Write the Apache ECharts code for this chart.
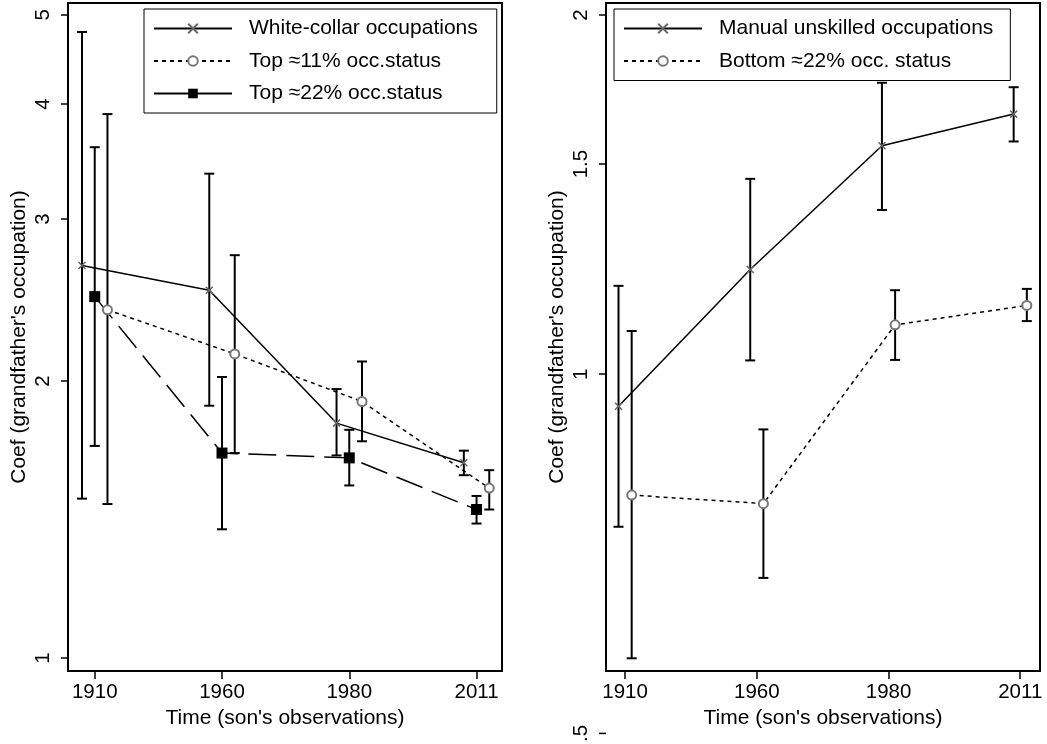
<!DOCTYPE html>
<html>
<head>
<meta charset="utf-8">
<title>Grandfather coefficients</title>
<script src="https://cdn.jsdelivr.net/npm/echarts@6/dist/echarts.min.js"></script>
<style>
  html, body { margin: 0; padding: 0; background: #fff; }
  #main { width: 1047px; height: 744px; }
</style>
</head>
<body>
<div id="main"></div>
<script>
var years = ['1910', '1960', '1980', '2011'];

// left panel: white-collar / top occupational status
var whiteCollar   = [2.67, 2.51, 1.80, 1.63];
var whiteCollarLo = [1.49, 1.88, 1.66, 1.58];
var whiteCollarHi = [4.79, 3.36, 1.96, 1.68];
var top11   = [2.39, 2.14, 1.90, 1.53];
var top11Lo = [1.47, 1.67, 1.72, 1.45];
var top11Hi = [3.90, 2.74, 2.10, 1.60];
var top22   = [2.47, 1.67, 1.65, 1.45];
var top22Lo = [1.70, 1.38, 1.54, 1.40];
var top22Hi = [3.59, 2.02, 1.77, 1.50];

// right panel: manual unskilled / bottom status
var manual   = [0.94, 1.224, 1.554, 1.652];
var manualLo = [0.745, 1.027, 1.373, 1.567];
var manualHi = [1.186, 1.458, 1.755, 1.740];
var bottom22   = [0.792, 0.779, 1.100, 1.142];
var bottom22Lo = [0.578, 0.675, 1.028, 1.108];
var bottom22Hi = [1.087, 0.899, 1.176, 1.179];

var leftTicks = [1, 2, 3, 4, 5];
var rightTicks = [1, 1.5, 2];
var xTicks = [1, 2, 3, 4];

var FONT = '"Liberation Sans", Arial, sans-serif';
var xMark = 'path://M0,0L10,10M10,0L0,10';

function pts(vals, off) {
    return vals.map(function (v, i) { return [i + 1 + off, v]; });
}
function bars(lo, hi, off) {
    return lo.map(function (l, i) { return [i + 1 + off, l, hi[i]]; });
}
function errSeries(lo, hi, off, idx) {
    return {
        type: 'custom', xAxisIndex: idx, yAxisIndex: idx, silent: true, z: 2,
        renderItem: function (params, api) {
            var a = api.coord([api.value(0), api.value(1)]);
            var b = api.coord([api.value(0), api.value(2)]);
            var st = { stroke: '#000', lineWidth: 2 };
            var cap = 5;
            return { type: 'group', children: [
                { type: 'line', shape: { x1: a[0], y1: a[1], x2: b[0], y2: b[1] }, style: st },
                { type: 'line', shape: { x1: a[0] - cap, y1: a[1], x2: a[0] + cap, y2: a[1] }, style: st },
                { type: 'line', shape: { x1: b[0] - cap, y1: b[1], x2: b[0] + cap, y2: b[1] }, style: st }
            ] };
        },
        encode: { x: 0, y: [1, 2] },
        data: bars(lo, hi, off)
    };
}

function xAxisOf(idx, min, max) {
    return {
        gridIndex: idx, type: 'value', min: min, max: max,
        name: "Time (son's observations)", nameLocation: 'middle', nameGap: 31,
        nameTextStyle: { fontSize: 21, color: '#000', fontFamily: FONT },
        axisLine: { show: false },
        axisTick: { customValues: xTicks, length: 8, lineStyle: { color: '#000', width: 1.5 } },
        axisLabel: { customValues: xTicks, fontSize: 20.5, color: '#000', fontFamily: FONT, margin: 11,
            formatter: function (v) { return years[Math.round(v) - 1]; } },
        splitLine: { show: false }
    };
}
function yAxisOf(idx, min, max, ticks) {
    return {
        gridIndex: idx, type: 'log', logBase: 10, min: min, max: max,
        name: "Coef (grandfather's occupation)", nameLocation: 'middle', nameGap: 38,
        nameTextStyle: { fontSize: 21, color: '#000', fontFamily: FONT },
        axisLine: { show: false },
        axisTick: { customValues: ticks, length: 7, lineStyle: { color: '#000', width: 1.5 } },
        axisLabel: { customValues: ticks, rotate: 90, fontSize: 20.5, color: '#000', fontFamily: FONT, margin: 14,
            formatter: function (v) { return String(+v.toFixed(2)); } },
        splitLine: { show: false }
    };
}

var legendText = { fontSize: 21, color: '#000', fontFamily: FONT, padding: [0, 0, 0, 12] };

var chart = echarts.init(document.getElementById('main'));
chart.setOption({
    animation: false,
    backgroundColor: '#fff',
    grid: [
        { left: 68, top: 3, width: 434, height: 668, show: true, borderColor: '#000', borderWidth: 2 },
        { left: 606, top: 3, width: 434, height: 668, show: true, borderColor: '#000', borderWidth: 2 }
    ],
    xAxis: [xAxisOf(0, 0.79, 4.2), xAxisOf(1, 0.855, 4.15)],
    yAxis: [yAxisOf(0, 0.968, 5.15, leftTicks), yAxisOf(1, 0.564, 2.047, rightTicks)],
    legend: [{
        data: ['White-collar occupations', 'Top ≈11% occ.status',
            { name: 'Top ≈22% occ.status', lineStyle: { type: 'solid' } }],
        orient: 'vertical', left: 144, top: 9, itemWidth: 78, itemHeight: 12, itemGap: 11.5,
        borderColor: '#000', borderWidth: 1, backgroundColor: '#fff', padding: [9, 19, 9, 9],
        selectedMode: false, textStyle: legendText
    }, {
        data: ['Manual unskilled occupations', 'Bottom ≈22% occ. status'],
        orient: 'vertical', left: 614, top: 9, itemWidth: 78, itemHeight: 12, itemGap: 11.5,
        borderColor: '#000', borderWidth: 1, backgroundColor: '#fff', padding: [9, 17, 9, 9],
        selectedMode: false, textStyle: legendText
    }],
    series: [
        errSeries(whiteCollarLo, whiteCollarHi, -0.1, 0),
        errSeries(top22Lo, top22Hi, 0, 0),
        errSeries(top11Lo, top11Hi, 0.1, 0),
        errSeries(manualLo, manualHi, -0.05, 1),
        errSeries(bottom22Lo, bottom22Hi, 0.05, 1),
        {
            type: 'line', name: 'White-collar occupations', xAxisIndex: 0, yAxisIndex: 0, z: 3,
            data: pts(whiteCollar, -0.1), symbol: xMark, symbolSize: 7,
            lineStyle: { color: '#000', width: 1.5 },
            itemStyle: { color: '#666', borderColor: '#666', borderWidth: 1.5 }
        },
        {
            type: 'line', name: 'Top ≈11% occ.status', xAxisIndex: 0, yAxisIndex: 0, z: 3,
            data: pts(top11, 0.1), symbol: 'emptyCircle', symbolSize: 9,
            lineStyle: { color: '#000', width: 1.5, type: [4, 4] },
            itemStyle: { color: '#777', borderColor: '#777', borderWidth: 1.5 }
        },
        {
            type: 'line', name: 'Top ≈22% occ.status', xAxisIndex: 0, yAxisIndex: 0, z: 3,
            data: pts(top22, 0), symbol: 'rect', symbolSize: 11,
            lineStyle: { color: '#000', width: 1.5, type: [28, 10] },
            itemStyle: { color: '#000' }
        },
        {
            type: 'line', name: 'Manual unskilled occupations', xAxisIndex: 1, yAxisIndex: 1, z: 3,
            data: pts(manual, -0.05), symbol: xMark, symbolSize: 7,
            lineStyle: { color: '#000', width: 1.5 },
            itemStyle: { color: '#666', borderColor: '#666', borderWidth: 1.5 }
        },
        {
            type: 'line', name: 'Bottom ≈22% occ. status', xAxisIndex: 1, yAxisIndex: 1, z: 3,
            data: pts(bottom22, 0.05), symbol: 'emptyCircle', symbolSize: 9,
            lineStyle: { color: '#000', width: 1.5, type: [4, 4] },
            itemStyle: { color: '#777', borderColor: '#777', borderWidth: 1.5 }
        }
    ]
});

// the .5 tick of the right panel sits below the plot frame
var yHalf = chart.convertToPixel({ yAxisIndex: 1 }, 0.5);
chart.setOption({
    graphic: [
        { type: 'line', shape: { x1: 599, y1: yHalf, x2: 606, y2: yHalf }, style: { stroke: '#000', lineWidth: 1.5 } },
        { type: 'text', x: 581, y: yHalf, rotation: Math.PI / 2,
          style: { text: '.5', fontSize: 20.5, fill: '#000', fontFamily: FONT, align: 'center', verticalAlign: 'middle' } }
    ]
});
</script>
</body>
</html>
